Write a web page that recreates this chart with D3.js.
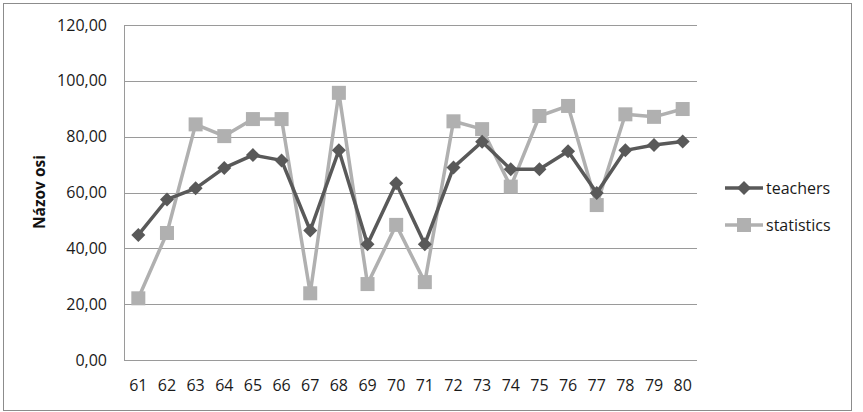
<!DOCTYPE html>
<html>
<head>
<meta charset="utf-8">
<script src="https://cdn.jsdelivr.net/npm/d3@7"></script>
<style>
  body { margin: 0; background: #fff; }
  svg { font-family: "Open Sans", sans-serif; }
</style>
</head>
<body>
<div id="chart"></div>
<script>
const categories = ["61","62","63","64","65","66","67","68","69","70","71","72","73","74","75","76","77","78","79","80"];
const teachers = [44.8, 57.5, 61.5, 68.8, 73.4, 71.5, 46.4, 75.1, 41.5, 63.3, 41.5, 69.0, 78.2, 68.3, 68.3, 74.8, 59.8, 75.1, 77.0, 78.3];
const statistics = [22.1, 45.5, 84.4, 80.2, 86.3, 86.3, 23.9, 95.7, 27.2, 48.4, 27.9, 85.5, 82.7, 62.1, 87.4, 91.0, 55.5, 88.0, 87.1, 89.9];
const yTicks = [0, 20, 40, 60, 80, 100, 120];

const width = 863, height = 412;
const margin = { left: 124, right: 166, top: 25, bottom: 52 };

const svg = d3.select("#chart").append("svg")
  .attr("width", width)
  .attr("height", height);

// outer frame
svg.append("rect")
  .attr("x", 3.5).attr("y", 3.5)
  .attr("width", 848).attr("height", 407)
  .attr("fill", "#fff")
  .attr("stroke", "#8c8c8c");

const x = d3.scaleBand()
  .domain(categories)
  .range([margin.left, width - margin.right]);

const y = d3.scaleLinear()
  .domain([0, 120])
  .range([height - margin.bottom, margin.top]);

const fmt = (v) => v.toFixed(2).replace(".", ",");

// gridlines
svg.append("g")
  .selectAll("line")
  .data(yTicks)
  .join("line")
  .attr("x1", margin.left)
  .attr("x2", width - margin.right)
  .attr("y1", (d) => Math.round(y(d)) + 0.5)
  .attr("y2", (d) => Math.round(y(d)) + 0.5)
  .attr("stroke", "#9a9a9a")
  .attr("stroke-width", 1);

// vertical axis line
svg.append("line")
  .attr("x1", margin.left + 0.5).attr("x2", margin.left + 0.5)
  .attr("y1", y(120)).attr("y2", y(0))
  .attr("stroke", "#9a9a9a");

// y tick labels
svg.append("g")
  .selectAll("text")
  .data(yTicks)
  .join("text")
  .attr("x", 107)
  .attr("y", (d) => y(d))
  .attr("dy", "0.35em")
  .attr("text-anchor", "end")
  .style("font-size", "16px")
  .style("fill", "#1a1a1a")
  .text(fmt);

// x tick labels
svg.append("g")
  .selectAll("text")
  .data(categories)
  .join("text")
  .attr("x", (d) => x(d) + x.bandwidth() / 2)
  .attr("y", 385)
  .attr("dy", "0.35em")
  .attr("text-anchor", "middle")
  .style("font-size", "16px")
  .style("fill", "#1a1a1a")
  .text((d) => d);

// y axis title
svg.append("text")
  .attr("transform", "translate(45,192) rotate(-90)")
  .attr("text-anchor", "middle")
  .style("font-size", "15.5px")
  .style("font-weight", "bold")
  .style("fill", "#111")
  .text("Názov osi");

const line = d3.line()
  .x((d, i) => x(categories[i]) + x.bandwidth() / 2)
  .y((d) => y(d));

const series = [
  { name: "statistics", values: statistics, color: "#b0b0b0", marker: "square" },
  { name: "teachers", values: teachers, color: "#595959", marker: "diamond" },
];

function drawMarker(g, type, cx, cy, color) {
  if (type === "square") {
    g.append("rect")
      .attr("x", cx - 7).attr("y", cy - 7)
      .attr("width", 14).attr("height", 14)
      .attr("fill", color);
  } else {
    g.append("path")
      .attr("d", `M${cx},${cy - 7}L${cx + 7},${cy}L${cx},${cy + 7}L${cx - 7},${cy}Z`)
      .attr("fill", color);
  }
}

series.forEach((s) => {
  const g = svg.append("g");
  g.append("path")
    .datum(s.values)
    .attr("d", line)
    .attr("fill", "none")
    .attr("stroke", s.color)
    .attr("stroke-width", 3.5)
    .attr("stroke-linejoin", "round");
  s.values.forEach((v, i) => {
    drawMarker(g, s.marker, x(categories[i]) + x.bandwidth() / 2, y(v), s.color);
  });
});

// legend
const legendItems = [
  { name: "teachers", color: "#595959", marker: "diamond", y: 188 },
  { name: "statistics", color: "#b0b0b0", marker: "square", y: 225 },
];
legendItems.forEach((d) => {
  const g = svg.append("g");
  g.append("line")
    .attr("x1", 725).attr("x2", 763)
    .attr("y1", d.y).attr("y2", d.y)
    .attr("stroke", d.color)
    .attr("stroke-width", 3.5);
  drawMarker(g, d.marker, 744, d.y, d.color);
  g.append("text")
    .attr("x", 766)
    .attr("y", d.y)
    .attr("dy", "0.35em")
    .style("font-size", "16px")
    .style("fill", "#1a1a1a")
    .text(d.name);
});
</script>
</body>
</html>
